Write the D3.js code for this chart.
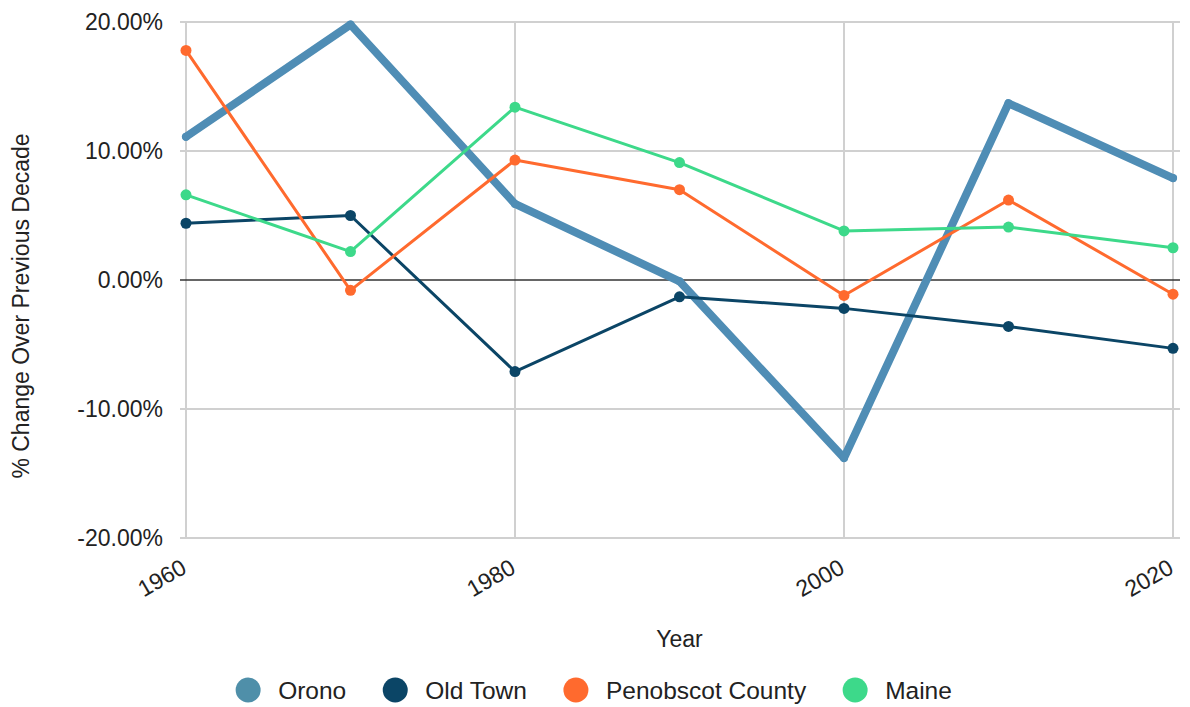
<!DOCTYPE html>
<html>
<head>
<meta charset="utf-8">
<script src="https://cdn.jsdelivr.net/npm/d3@7"></script>
<style>
  html, body { margin: 0; padding: 0; background: #fff; }
  svg { display: block; font-family: "Liberation Sans", Arial, sans-serif; }
</style>
</head>
<body>
<svg id="chart" width="1190" height="707"></svg>
<script>
// Decennial population change, percent over the previous decade
const years = [1960, 1970, 1980, 1990, 2000, 2010, 2020];
const orono      = [11.1, 19.8, 5.9, -0.1, -13.8, 13.7, 7.9];
const oldTown    = [4.4, 5.0, -7.1, -1.3, -2.2, -3.6, -5.3];
const penobscot  = [17.8, -0.8, 9.3, 7.0, -1.2, 6.2, -1.1];
const maine      = [6.6, 2.2, 13.4, 9.1, 3.8, 4.1, 2.5];
const seriesNames = ["Orono", "Old Town", "Penobscot County", "Maine"];
const yTicks = [-20, -10, 0, 10, 20];
const xTicks = [1960, 1980, 2000, 2020];

const series = [
  { name: seriesNames[0], values: orono,     color: "#4f8db5", legend: "#4f8fa9", width: 8,   r: 4 },
  { name: seriesNames[1], values: oldTown,   color: "#0b4566", legend: "#0b4566", width: 3,   r: 5.5 },
  { name: seriesNames[2], values: penobscot, color: "#ff6a2e", legend: "#ff6a2e", width: 3,   r: 5.5 },
  { name: seriesNames[3], values: maine,     color: "#3dd98a", legend: "#3dd98a", width: 3,   r: 5.5 }
];

const svg = d3.select("#chart");
const plotLeft = 186, plotRight = 1173, plotTop = 22, plotBottom = 538;

const x = d3.scaleLinear().domain([1960, 2020]).range([plotLeft, plotRight]);
const y = d3.scaleLinear().domain([-20, 20]).range([plotBottom, plotTop]);

// percent labels with a plain hyphen for negatives
const pct = d => d3.format(".2f")(d).replace("\u2212", "-") + "%";

// horizontal gridlines
const grid = svg.append("g");
grid.selectAll("line.h")
  .data(yTicks.filter(d => d !== 0))
  .join("line")
  .attr("class", "h")
  .attr("x1", plotLeft - 6).attr("x2", plotRight + 7)
  .attr("y1", d => y(d)).attr("y2", d => y(d))
  .attr("stroke", "#d0d0d0").attr("stroke-width", 2);

// vertical gridlines
grid.selectAll("line.v")
  .data(xTicks)
  .join("line")
  .attr("class", "v")
  .attr("x1", d => x(d)).attr("x2", d => x(d))
  .attr("y1", plotTop).attr("y2", plotBottom)
  .attr("stroke", "#d0d0d0").attr("stroke-width", 2);

// zero baseline
svg.append("line")
  .attr("x1", plotLeft - 6).attr("x2", plotRight + 7)
  .attr("y1", y(0)).attr("y2", y(0))
  .attr("stroke", "#333").attr("stroke-width", 1.5);

// y axis tick labels
svg.append("g").selectAll("text")
  .data(yTicks)
  .join("text")
  .attr("x", 163)
  .attr("y", d => y(d) + 7.5)
  .attr("text-anchor", "end")
  .attr("font-size", 23)
  .attr("fill", "#222")
  .text(pct);

// x axis tick labels, rotated
svg.append("g").selectAll("text")
  .data(xTicks)
  .join("text")
  .attr("text-anchor", "end")
  .attr("font-size", 23)
  .attr("fill", "#222")
  .attr("transform", d => `translate(${x(d) + 2},572) rotate(-30)`)
  .text(d => d);

// axis titles
svg.append("text")
  .attr("x", (plotLeft + plotRight) / 2).attr("y", 647)
  .attr("text-anchor", "middle")
  .attr("font-size", 23).attr("fill", "#222")
  .text("Year");

svg.append("text")
  .attr("transform", `translate(29,306) rotate(-90)`)
  .attr("text-anchor", "middle")
  .attr("font-size", 23).attr("fill", "#222")
  .text("% Change Over Previous Decade");

// lines and markers
const line = d3.line().x((d, i) => x(years[i])).y(d => y(d));
const marks = svg.append("g");
series.forEach(s => {
  const g = marks.append("g");
  g.append("path")
    .datum(s.values)
    .attr("d", line)
    .attr("fill", "none")
    .attr("stroke", s.color)
    .attr("stroke-width", s.width)
    .attr("stroke-linejoin", "round")
    .attr("stroke-linecap", "round");
  g.selectAll("circle")
    .data(s.values)
    .join("circle")
    .attr("cx", (d, i) => x(years[i]))
    .attr("cy", d => y(d))
    .attr("r", s.r)
    .attr("fill", s.color);
});

// legend
const legend = svg.append("g").attr("transform", "translate(0,690)");
const items = legend.selectAll("g")
  .data(series)
  .join("g");
items.append("circle").attr("r", 12.5).attr("fill", d => d.legend);
items.append("text")
  .attr("x", 30).attr("y", 8.5)
  .attr("font-size", 24.5).attr("fill", "#222")
  .text(d => d.name);
const widths = [];
items.each(function() {
  widths.push(d3.select(this).select("text").node().getComputedTextLength());
});
const itemW = widths.map(w => 12 + 30 + w);
const gap = 37;
const total = d3.sum(itemW) + gap * (itemW.length - 1);
let cursor = 594 - total / 2;
items.attr("transform", (d, i) => {
  const pos = cursor + 12;
  cursor += itemW[i] + gap;
  return `translate(${pos},0)`;
});
</script>
</body>
</html>
